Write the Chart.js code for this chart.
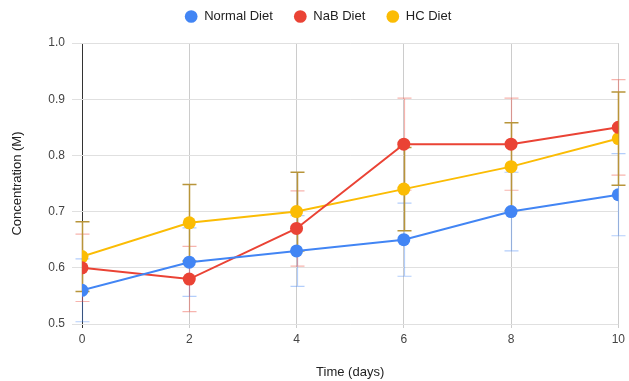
<!DOCTYPE html>
<html>
<head>
<meta charset="utf-8">
<script src="https://cdn.jsdelivr.net/npm/chart.js@4"></script>
<style>
html,body{margin:0;padding:0;background:#fff;}
#wrap{width:629px;height:381px;position:relative;}
</style>
</head>
<body>
<div id="wrap"><canvas id="c" width="629" height="381"></canvas></div>
<script>
const days = [0, 2, 4, 6, 8, 10];
const normalDiet = [0.56, 0.61, 0.63, 0.65, 0.70, 0.73];
const nabDiet = [0.60, 0.58, 0.67, 0.82, 0.82, 0.85];
const hcDiet = [0.62, 0.68, 0.70, 0.74, 0.78, 0.83];
const normalErr = [0.056, 0.061, 0.063, 0.065, 0.070, 0.073];
const nabErr = [0.060, 0.058, 0.067, 0.082, 0.082, 0.085];
const hcErr = [0.062, 0.068, 0.070, 0.074, 0.078, 0.083];
const seriesNames = ['Normal Diet', 'NaB Diet', 'HC Diet'];
const yTicks = [0.5, 0.6, 0.7, 0.8, 0.9, 1.0];

const FONT = '"Liberation Sans", Arial, sans-serif';

function pts(vals) { return days.map((d, i) => ({x: d, y: vals[i]})); }

const errorBars = {
  id: 'errorBars',
  beforeDatasetsDraw(chart) {
    const ctx = chart.ctx;
    const xs = chart.scales.x, ys = chart.scales.y;
    chart.data.datasets.forEach((ds) => {
      ctx.save();
      ctx.strokeStyle = ds.errColor;
      ctx.lineWidth = ds.errWidth;
      ds.errors.forEach((e, i) => {
        const p = ds.data[i];
        const x = Math.round(xs.getPixelForValue(p.x)) + 0.5;
        const yt = ys.getPixelForValue(p.y + e);
        const yb = ys.getPixelForValue(p.y - e);
        ctx.beginPath();
        ctx.moveTo(x, yt); ctx.lineTo(x, yb);
        ctx.moveTo(x - 7, yt); ctx.lineTo(x + 7, yt);
        ctx.moveTo(x - 7, yb); ctx.lineTo(x + 7, yb);
        ctx.stroke();
      });
      ctx.restore();
    });
  }
};

const legendTweak = {
  id: 'legendTweak',
  beforeInit(chart) {
    const lg = chart.legend;
    const origFit = lg.fit;
    lg.fit = function () { origFit.call(this); this.height = 43; };
    const origDraw = lg.draw;
    lg.draw = function () {
      const ctx = this.ctx;
      ctx.save();
      ctx.translate(8, -11);
      origDraw.apply(this, arguments);
      ctx.restore();
    };
  }
};

new Chart(document.getElementById('c'), {
  type: 'line',
  data: {
    datasets: [
      {label: seriesNames[0], data: pts(normalDiet), errors: normalErr,
       borderColor: '#4285F4', backgroundColor: '#4285F4', errColor: 'rgba(66,133,244,0.4)', errWidth: 1.2},
      {label: seriesNames[1], data: pts(nabDiet), errors: nabErr,
       borderColor: '#EA4335', backgroundColor: '#EA4335', errColor: 'rgba(234,67,53,0.4)', errWidth: 1.2},
      {label: seriesNames[2], data: pts(hcDiet), errors: hcErr,
       borderColor: '#FBBC04', backgroundColor: '#FBBC04', errColor: '#B8953A', errWidth: 1.5}
    ].map(d => Object.assign(d, {borderWidth: 2, pointRadius: 6.5, pointBorderWidth: 0, pointHoverRadius: 6.5, tension: 0, pointStyle: 'circle'}))
  },
  options: {
    responsive: false,
    animation: false,
    layout: {padding: {left: 0, right: 9, top: 0, bottom: 0}},
    plugins: {
      tooltip: {enabled: false},
      legend: {
        position: 'top',
        labels: {
          usePointStyle: true, pointStyle: 'circle', boxWidth: 13, boxHeight: 9,
          padding: 21, color: '#222', font: {family: FONT, size: 13}
        }
      }
    },
    scales: {
      x: {
        type: 'linear', min: 0, max: 10,
        afterBuildTicks(s) { s.ticks = days.map(v => ({value: v})); },
        ticks: {color: '#444', font: {family: FONT, size: 12}, padding: 4, maxRotation: 0},
        grid: {
          color: (c) => (c.tick && c.tick.value === 0) ? '#333' : '#ccc',
          lineWidth: 1, drawTicks: true, tickLength: 4
        },
        border: {display: false},
        title: {display: true, text: 'Time (days)', color: '#222', font: {family: FONT, size: 13}, padding: {top: 0, bottom: 1}},
        afterFit(s) { s.height = 57; }
      },
      y: {
        type: 'linear', min: 0.5, max: 1.0,
        afterBuildTicks(s) { s.ticks = yTicks.map(v => ({value: v})); },
        ticks: {color: '#444', font: {family: FONT, size: 12}, padding: 7, callback: (v) => Number(v).toFixed(1)},
        grid: {color: '#e0e0e0', lineWidth: 1, drawTicks: true, tickLength: 10},
        border: {display: false},
        title: {display: true, text: 'Concentration (M)', color: '#222', font: {family: FONT, size: 13}, padding: {top: 10, bottom: 0}},
        afterFit(s) { s.width = 82; }
      }
    }
  },
  plugins: [errorBars, legendTweak]
});
</script>
</body>
</html>
